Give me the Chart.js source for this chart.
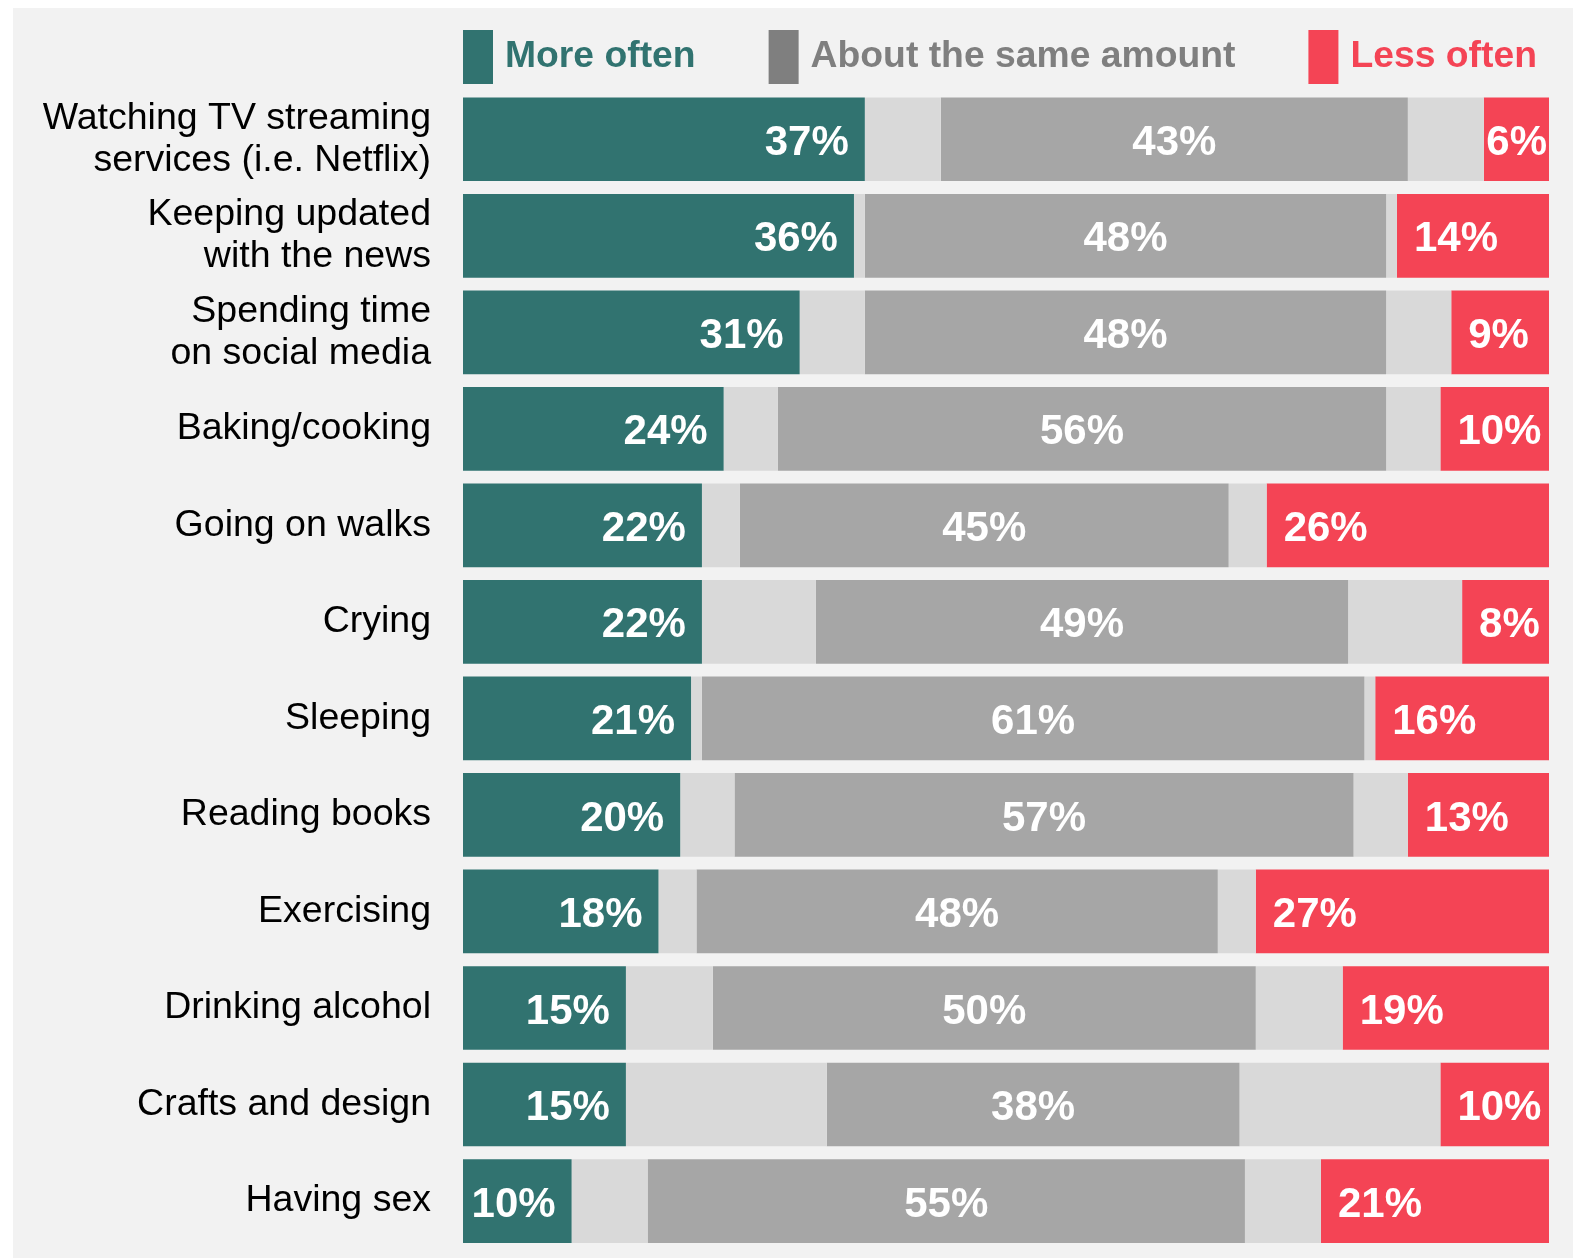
<!DOCTYPE html>
<html>
<head>
<meta charset="utf-8">
<script src="https://cdn.jsdelivr.net/npm/chart.js@4"></script>
<style>
  body { margin: 0; background: #fff; }
  #wrap { position: absolute; left: 13px; top: 8px; width: 1560px; height: 1250px; background: #f2f2f2; }
</style>
</head>
<body>
<div id="wrap"><canvas id="myChart"></canvas></div>
<script>
const activities = [
  ['Watching TV streaming', 'services (i.e. Netflix)'],
  ['Keeping updated', 'with the news'],
  ['Spending time', 'on social media'],
  'Baking/cooking',
  'Going on walks',
  'Crying',
  'Sleeping',
  'Reading books',
  'Exercising',
  'Drinking alcohol',
  'Crafts and design',
  'Having sex'
]
const moreOften = [37, 36, 31, 24, 22, 22, 21, 20, 18, 15, 15, 10]
const sameAmount = [43, 48, 48, 56, 45, 49, 61, 57, 48, 50, 38, 55]
const lessOften = [6, 14, 9, 10, 26, 8, 16, 13, 27, 19, 10, 21]

// the rest (not answered) is shown half on each side of the grey bar
const rest = moreOften.map((m, i) => (100 - m - sameAmount[i] - lessOften[i]) / 2)

const teal = '#317370'
const grey = '#a6a6a6'
const lightGrey = '#d9d9d9'
const red = '#f44455'
const fontFamily = '"Liberation Sans", Arial, sans-serif'

const legendItems = [
  { text: 'More often', box: teal, color: teal },
  { text: 'About the same amount', box: '#7f7f7f', color: '#7f7f7f' },
  { text: 'Less often', box: red, color: red }
]

// legend drawn above the bars, starting at the left of the plot
const legendPlugin = {
  id: 'topLegend',
  afterDraw(chart) {
    const ctx = chart.ctx
    ctx.save()
    ctx.font = 'bold 37.3px ' + fontFamily
    ctx.textBaseline = 'middle'
    let x = chart.chartArea.left
    legendItems.forEach(item => {
      ctx.fillStyle = item.box
      ctx.fillRect(x, 22, 30, 54)
      ctx.fillStyle = item.color
      ctx.textAlign = 'left'
      ctx.fillText(item.text, x + 42, 49)
      x += 42 + ctx.measureText(item.text).width + 73
    })
    ctx.restore()
  }
}

// percentage labels inside the bars
const valuePlugin = {
  id: 'valueLabels',
  afterDatasetsDraw(chart) {
    const ctx = chart.ctx
    ctx.save()
    ctx.font = 'bold 42px ' + fontFamily
    ctx.fillStyle = '#fff'
    ctx.textBaseline = 'middle'
    chart.data.datasets.forEach((ds, di) => {
      if (!ds.showValue) return
      chart.getDatasetMeta(di).data.forEach((bar, i) => {
        const txt = ds.data[i] + '%'
        const w = ctx.measureText(txt).width
        const y = bar.y + 4
        if (ds.showValue === 'end') {
          ctx.textAlign = 'right'
          ctx.fillText(txt, bar.x - 16, y)
        } else if (ds.showValue === 'center') {
          ctx.textAlign = 'center'
          ctx.fillText(txt, (bar.base + bar.x) / 2, y)
        } else {
          ctx.textAlign = 'left'
          let tx = bar.base + 17
          if (tx + w > bar.x - 2) tx = bar.x - 2 - w
          ctx.fillText(txt, tx, y)
        }
      })
    })
    ctx.restore()
  }
}

const data = {
  labels: activities,
  datasets: [
    { label: 'More often', data: moreOften, backgroundColor: teal, showValue: 'end' },
    { label: 'rest', data: rest, backgroundColor: lightGrey },
    { label: 'About the same amount', data: sameAmount, backgroundColor: grey, showValue: 'center' },
    { label: 'rest', data: rest, backgroundColor: lightGrey },
    { label: 'Less often', data: lessOften, backgroundColor: red, showValue: 'start' }
  ]
}

data.datasets.forEach(ds => {
  ds.barPercentage = 0.867
  ds.categoryPercentage = 1
  ds.borderWidth = 0
})

const config = {
  type: 'bar',
  data,
  options: {
    indexAxis: 'y',
    responsive: true,
    maintainAspectRatio: false,
    animation: false,
    layout: {
      padding: { left: 0, right: 24, top: 83, bottom: 8.7 }
    },
    scales: {
      x: {
        stacked: true,
        min: 0,
        max: 100,
        display: false
      },
      y: {
        stacked: true,
        grid: { display: false, drawTicks: false },
        border: { display: false },
        ticks: {
          color: '#000',
          padding: 32,
          font: { family: fontFamily, size: 37.5, lineHeight: 1.12 }
        },
        afterFit(scale) {
          scale.width = 450
          scale.paddingTop = 0
          scale.paddingBottom = 0
        }
      }
    },
    plugins: {
      legend: { display: false },
      tooltip: { enabled: false }
    }
  },
  plugins: [legendPlugin, valuePlugin]
}

const myChart = new Chart(document.getElementById('myChart'), config)
</script>
</body>
</html>
